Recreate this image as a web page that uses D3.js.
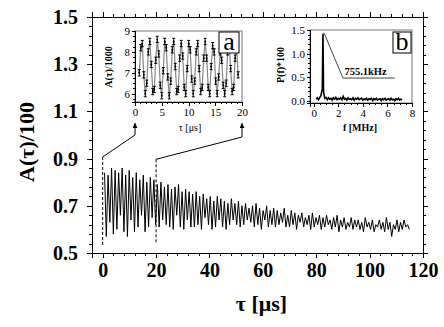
<!DOCTYPE html>
<html>
<head>
<meta charset="utf-8">
<script src="https://d3js.org/d3.v7.min.js"></script>
<style>
body { margin: 0; background: #fff; }
svg { display: block; font-family: "Liberation Serif", "Times New Roman", serif; }
.axis path, .axis line { stroke: #000; shape-rendering: crispEdges; }
.main-axis text { font-size: 20px; font-weight: bold; }
.inset-axis text { font-size: 11px; }
</style>
</head>
<body>
<div id="chart"></div>
<script>
// main trace A(tau)/100: one peak and one trough per period (755.1 kHz -> 1.32 us)
var mainStart = 0.7, mainStep = 0.66;
var mainPeaks = [0.84, 0.83, 0.86, 0.85, 0.84, 0.86, 0.83, 0.85,
    0.82, 0.84, 0.81, 0.83, 0.80, 0.82, 0.81,
    0.79, 0.80, 0.78, 0.79, 0.77, 0.78, 0.79, 0.76, 0.77, 0.76, 0.75,
    0.76, 0.74, 0.75, 0.73, 0.74, 0.72, 0.74, 0.73, 0.72, 0.71, 0.73, 0.71,
    0.72, 0.70, 0.71, 0.69, 0.70, 0.71, 0.69, 0.68, 0.70, 0.68, 0.69,
    0.68, 0.67, 0.69, 0.66, 0.68, 0.67, 0.66, 0.67, 0.65, 0.66, 0.67, 0.65,
    0.66, 0.65, 0.66, 0.64, 0.65, 0.66, 0.64, 0.65, 0.63, 0.65, 0.64,
    0.64, 0.63, 0.65, 0.63, 0.64, 0.62, 0.64, 0.63, 0.65, 0.63, 0.62, 0.64, 0.63, 0.64, 0.62];
var mainTroughs = [0.57, 0.63, 0.58, 0.60, 0.66, 0.59, 0.57, 0.64,
    0.59, 0.61, 0.66, 0.59, 0.61, 0.65, 0.62,
    0.61, 0.64, 0.62, 0.61, 0.60, 0.66, 0.61, 0.60, 0.64, 0.61, 0.61,
    0.62, 0.60, 0.65, 0.62, 0.60, 0.61, 0.64, 0.61, 0.60, 0.62, 0.64, 0.62,
    0.61, 0.62, 0.64, 0.63, 0.61, 0.62, 0.60, 0.64, 0.61, 0.62, 0.61,
    0.62, 0.63, 0.61, 0.61, 0.62, 0.60, 0.63, 0.61, 0.62, 0.60, 0.61, 0.62,
    0.60, 0.61, 0.62, 0.60, 0.61, 0.59, 0.61, 0.60, 0.61, 0.60, 0.61,
    0.60, 0.59, 0.61, 0.60, 0.59, 0.61, 0.60, 0.59, 0.60, 0.57, 0.60, 0.59, 0.60, 0.61, 0.60];
var mainXTicks = [0, 20, 40, 60, 80, 100, 120];
var mainYTicks = [0.5, 0.7, 0.9, 1.1, 1.3, 1.5];

// inset a: A(tau)/1000 over the first 20 us
var insetStart = 0.8, insetStep = 0.28;
var insetVals = [7.0, 8.2, 8.4, 6.9, 6.0, 6.5, 8.0, 8.5, 7.4, 6.1,
    6.2, 7.6, 8.6, 7.9, 6.4, 5.9, 7.1, 8.5, 8.2, 6.8,
    5.9, 6.6, 8.1, 8.5, 7.3, 6.1, 6.2, 7.7, 8.4, 7.8,
    6.3, 6.0, 7.2, 8.4, 8.1, 6.7, 6.0, 6.6, 8.0, 8.4,
    7.2, 6.1, 6.3, 7.7, 8.5, 7.7, 6.3, 6.0, 7.3, 8.3,
    8.0, 6.6, 6.0, 6.8, 8.0, 7.6, 6.4, 6.0, 6.5, 8.0,
    8.4, 7.2, 6.1, 6.3, 7.7, 8.2, 6.9];
var insetErr = 0.15;
var insetXTicks = [0, 5, 10, 15, 20];
var insetYTicks = [6, 7, 8, 9];

// inset b: power spectrum P(f)*100
var specF = [0.2, 0.3, 0.4, 0.5, 0.6, 0.65, 0.7, 0.755, 0.8, 0.85, 0.9, 1.0,
    1.1, 1.2, 1.3, 1.4, 1.5, 1.6, 1.7, 1.8, 1.9, 2.0, 2.1, 2.2, 2.3, 2.4, 2.5,
    2.6, 2.7, 2.8, 2.9, 3.0, 3.1, 3.2, 3.3, 3.4, 3.5, 3.6, 3.7, 3.8, 3.9, 4.0,
    4.1, 4.2, 4.3, 4.4, 4.5, 4.6, 4.7, 4.8, 4.9, 5.0, 5.1, 5.2, 5.3, 5.4, 5.5,
    5.6, 5.7, 5.8, 5.9, 6.0, 6.1, 6.2, 6.3, 6.4, 6.5, 6.6, 6.7, 6.8, 6.9, 7.0, 7.1, 7.2];
var specP = [0.03, 0.06, 0.02, 0.07, 0.11, 0.19, 0.24, 1.42, 0.21, 0.12, 0.05, 0.07,
    0.02, 0.06, 0.03, 0.05, 0.01, 0.06, 0.03, 0.07, 0.02, 0.05, 0.03, 0.06, 0.02, 0.09, 0.03,
    0.05, 0.01, 0.06, 0.03, 0.04, 0.02, 0.06, 0.01, 0.05, 0.03, 0.06, 0.02, 0.04, 0.05, 0.01,
    0.04, 0.02, 0.05, 0.01, 0.04, 0.03, 0.05, 0.00, 0.04, 0.02, 0.05, 0.01, 0.03, 0.04, 0.00,
    0.04, 0.02, 0.05, 0.01, 0.03, 0.04, 0.01, 0.05, 0.02, 0.03, 0.00, 0.04, 0.02, 0.05, 0.01, 0.03, 0.02];
var peakLabel = "755.1kHz";
var peakNote = [[0.84, 1.44], [2.38, 0.48], [6.6, 0.48]];
var specXTicks = [0, 2, 4, 6, 8];
var specYTicks = [0.0, 0.5, 1.0, 1.5];

var serif = "'Liberation Serif', 'Times New Roman', serif";
var W = 444, H = 327;
var svg = d3.select("#chart").append("svg")
    .attr("width", W)
    .attr("height", H);

// ---------- main plot ----------
var m = { left: 92, top: 17, right: 21, bottom: 74 };
var w = W - m.left - m.right, h = H - m.top - m.bottom;
var g = svg.append("g").attr("transform", "translate(" + m.left + "," + m.top + ")");

var x = d3.scaleLinear().domain([-4, 120]).range([0, w]);
var y = d3.scaleLinear().domain([0.5, 1.5]).range([h, 0]);

function minorAxis(axis, values) {
    return axis.tickValues(values).tickSize(3).tickFormat("");
}
var xMinor = d3.range(-4, 121, 4), yMinor = d3.range(0.5, 1.501, 0.04);

g.append("g").attr("class", "axis main-axis")
    .attr("transform", "translate(0," + h + ")")
    .call(d3.axisBottom(x).tickValues(mainXTicks).tickSize(5).tickPadding(5));
g.append("g").attr("class", "axis")
    .attr("transform", "translate(0," + h + ")")
    .call(minorAxis(d3.axisBottom(x), xMinor));
g.append("g").attr("class", "axis")
    .call(d3.axisTop(x).tickValues(mainXTicks).tickSize(5).tickFormat(""));
g.append("g").attr("class", "axis").call(minorAxis(d3.axisTop(x), xMinor));

g.append("g").attr("class", "axis main-axis")
    .call(d3.axisLeft(y).tickValues(mainYTicks).tickSize(5).tickPadding(9).tickFormat(d3.format(".1f")));
g.append("g").attr("class", "axis").call(minorAxis(d3.axisLeft(y), yMinor));
g.append("g").attr("class", "axis")
    .attr("transform", "translate(" + w + ",0)")
    .call(d3.axisRight(y).tickValues(mainYTicks).tickSize(5).tickFormat(""));
g.append("g").attr("class", "axis")
    .attr("transform", "translate(" + w + ",0)")
    .call(minorAxis(d3.axisRight(y), yMinor));

// main signal
var mainData = [];
mainPeaks.forEach(function(p, i) {
    mainData.push({ t: mainStart + 2 * i * mainStep, a: p });
    mainData.push({ t: mainStart + (2 * i + 1) * mainStep, a: mainTroughs[i] });
});
var mainLine = d3.line()
    .x(function(d) { return x(d.t); })
    .y(function(d) { return y(d.a); });
g.append("path")
    .datum(mainData)
    .attr("d", mainLine)
    .attr("fill", "none")
    .attr("stroke", "#000")
    .attr("stroke-width", 1);

svg.append("text")
    .attr("transform", "translate(34,142) rotate(-90)")
    .attr("text-anchor", "middle")
    .style("font-size", "22px")
    .style("font-weight", "bold")
    .text("A(\u03c4)/100");
svg.append("text")
    .attr("x", m.left + w / 2 + 4)
    .attr("y", 311)
    .attr("text-anchor", "middle")
    .style("font-size", "22px")
    .style("font-weight", "bold")
    .text("\u03c4 [\u03bcs]");

// ---------- inset a ----------
var ax = d3.scaleLinear().domain([0, 20]).range([135, 242]);
var ay = d3.scaleLinear().domain([5.6, 9]).range([102, 31]);
var ia = svg.append("g");

ia.append("rect")
    .attr("x", ax(0)).attr("y", ay(9))
    .attr("width", ax(20) - ax(0)).attr("height", ay(5.6) - ay(9))
    .attr("fill", "#fff").attr("stroke", "#777");

var insetData = insetVals.map(function(v, i) { return { t: insetStart + i * insetStep, a: v }; });
ia.append("path")
    .datum(insetData)
    .attr("d", d3.line().x(function(d) { return ax(d.t); }).y(function(d) { return ay(d.a); }))
    .attr("fill", "none")
    .attr("stroke", "#888")
    .attr("stroke-width", 1.2);
var bars = ia.selectAll(".ebar").data(insetData).enter().append("g").attr("class", "ebar");
bars.append("line")
    .attr("x1", function(d) { return ax(d.t); }).attr("x2", function(d) { return ax(d.t); })
    .attr("y1", function(d) { return ay(d.a - insetErr); }).attr("y2", function(d) { return ay(d.a + insetErr); })
    .attr("stroke", "#000");
bars.append("line")
    .attr("x1", function(d) { return ax(d.t) - 1.5; }).attr("x2", function(d) { return ax(d.t) + 1.5; })
    .attr("y1", function(d) { return ay(d.a + insetErr); }).attr("y2", function(d) { return ay(d.a + insetErr); })
    .attr("stroke", "#000");
bars.append("line")
    .attr("x1", function(d) { return ax(d.t) - 1.5; }).attr("x2", function(d) { return ax(d.t) + 1.5; })
    .attr("y1", function(d) { return ay(d.a - insetErr); }).attr("y2", function(d) { return ay(d.a - insetErr); })
    .attr("stroke", "#000");
bars.append("circle")
    .attr("cx", function(d) { return ax(d.t); })
    .attr("cy", function(d) { return ay(d.a); })
    .attr("r", 1).attr("fill", "#000");

ia.append("g").attr("class", "axis inset-axis")
    .attr("transform", "translate(" + ax(0) + ",0)")
    .call(d3.axisLeft(ay).tickValues(insetYTicks).tickSize(3).tickPadding(2).tickFormat(d3.format("d")));
ia.append("g").attr("class", "axis")
    .attr("transform", "translate(" + ax(0) + ",0)")
    .call(minorAxis(d3.axisLeft(ay), d3.range(5.75, 9.01, 0.25)).tickSize(2));
ia.append("g").attr("class", "axis inset-axis")
    .attr("transform", "translate(0," + ay(5.6) + ")")
    .call(d3.axisBottom(ax).tickValues(insetXTicks).tickSize(4).tickPadding(2).tickFormat(d3.format("d")));
ia.append("g").attr("class", "axis")
    .attr("transform", "translate(0," + ay(5.6) + ")")
    .call(minorAxis(d3.axisBottom(ax), d3.range(0, 20.01, 1)).tickSize(2));

ia.append("text")
    .attr("transform", "translate(112,67) rotate(-90)")
    .attr("text-anchor", "middle")
    .style("font-size", "10px")
    .style("font-weight", "bold")
    .text("A(\u03c4)/1000");
ia.append("text")
    .attr("x", 190).attr("y", 131)
    .attr("text-anchor", "middle")
    .style("font-size", "10px")
    .text("\u03c4 [\u03bcs]");

ia.append("rect")
    .attr("x", 219).attr("y", 32).attr("width", 20).attr("height", 21)
    .attr("fill", "#fff").attr("stroke", "#000");
ia.append("text")
    .attr("x", 229).attr("y", 50)
    .attr("text-anchor", "middle")
    .style("font-size", "26px")
    .text("a");

// ---------- inset b ----------
var bx = d3.scaleLinear().domain([-0.3, 8]).range([310, 412]);
var by = d3.scaleLinear().domain([-0.05, 1.5]).range([103, 30]);
var ib = svg.append("g");

ib.append("rect")
    .attr("x", bx(-0.3)).attr("y", by(1.5))
    .attr("width", bx(8) - bx(-0.3)).attr("height", by(-0.05) - by(1.5))
    .attr("fill", "#fff").attr("stroke", "#777");

ib.append("path")
    .datum(specF.map(function(f, i) { return [f, specP[i]]; }))
    .attr("d", d3.line().x(function(d) { return bx(d[0]); }).y(function(d) { return by(d[1]); }))
    .attr("fill", "none")
    .attr("stroke", "#000")
    .attr("stroke-width", 1.6);

ib.append("path")
    .datum(peakNote)
    .attr("d", d3.line().x(function(d) { return bx(d[0]); }).y(function(d) { return by(d[1]); }))
    .attr("fill", "none")
    .attr("stroke", "#444")
    .attr("stroke-width", 1);
ib.append("text")
    .attr("x", bx(2.5)).attr("y", by(0.48) - 3)
    .style("font-size", "10.5px")
    .style("font-weight", "bold")
    .text(peakLabel);

ib.append("g").attr("class", "axis inset-axis")
    .attr("transform", "translate(" + bx(-0.3) + ",0)")
    .call(d3.axisLeft(by).tickValues(specYTicks).tickSize(3).tickPadding(2).tickFormat(d3.format(".1f")));
ib.append("g").attr("class", "axis")
    .attr("transform", "translate(" + bx(-0.3) + ",0)")
    .call(minorAxis(d3.axisLeft(by), d3.range(0, 1.501, 0.1)).tickSize(2));
ib.append("g").attr("class", "axis inset-axis")
    .attr("transform", "translate(0," + by(-0.05) + ")")
    .call(d3.axisBottom(bx).tickValues(specXTicks).tickSize(4).tickPadding(2).tickFormat(d3.format("d")));
ib.append("g").attr("class", "axis")
    .attr("transform", "translate(0," + by(-0.05) + ")")
    .call(minorAxis(d3.axisBottom(bx), d3.range(0, 8.01, 0.5)).tickSize(2));

ib.append("text")
    .attr("transform", "translate(284,65) rotate(-90)")
    .attr("text-anchor", "middle")
    .style("font-size", "10px")
    .style("font-weight", "bold")
    .text("P(f)*100");
ib.append("text")
    .attr("x", 360).attr("y", 131)
    .attr("text-anchor", "middle")
    .style("font-size", "10px")
    .style("font-weight", "bold")
    .text("f [MHz]");

ib.append("rect")
    .attr("x", 393).attr("y", 32).attr("width", 18).attr("height", 21)
    .attr("fill", "#fff").attr("stroke", "#000");
ib.append("text")
    .attr("x", 402).attr("y", 50)
    .attr("text-anchor", "middle")
    .style("font-size", "26px")
    .text("b");

// d3 axes set their own sans-serif font; switch them back to the serif face
svg.selectAll(".axis").attr("font-family", serif);

// ---------- connectors from inset a to the main trace ----------
var defs = svg.append("defs");
defs.append("marker")
    .attr("id", "arrowUp")
    .attr("viewBox", "0 0 6 6")
    .attr("refX", 3).attr("refY", 0)
    .attr("markerWidth", 5).attr("markerHeight", 5)
    .attr("orient", "0")
    .append("path")
    .attr("d", "M0,6 L3,0 L6,6 Z")
    .attr("fill", "#000");

var links = [
    { inT: 0, mainT: 0, top: 0.907, bottom: 0.534, elbow: 135 },
    { inT: 20, mainT: 20, top: 0.897, bottom: 0.542, elbow: 137 }
];
links.forEach(function(l) {
    svg.append("line")
        .attr("x1", ax(l.inT)).attr("x2", ax(l.inT))
        .attr("y1", l.elbow).attr("y2", 123)
        .attr("stroke", "#000")
        .attr("marker-end", "url(#arrowUp)");
    svg.append("line")
        .attr("x1", ax(l.inT)).attr("y1", l.elbow)
        .attr("x2", m.left + x(l.mainT)).attr("y2", m.top + y(l.top))
        .attr("stroke", "#000");
    svg.append("line")
        .attr("x1", m.left + x(l.mainT)).attr("x2", m.left + x(l.mainT))
        .attr("y1", m.top + y(l.top)).attr("y2", m.top + y(l.bottom))
        .attr("stroke", "#000")
        .attr("stroke-dasharray", "3,2");
});
</script>
</body>
</html>
